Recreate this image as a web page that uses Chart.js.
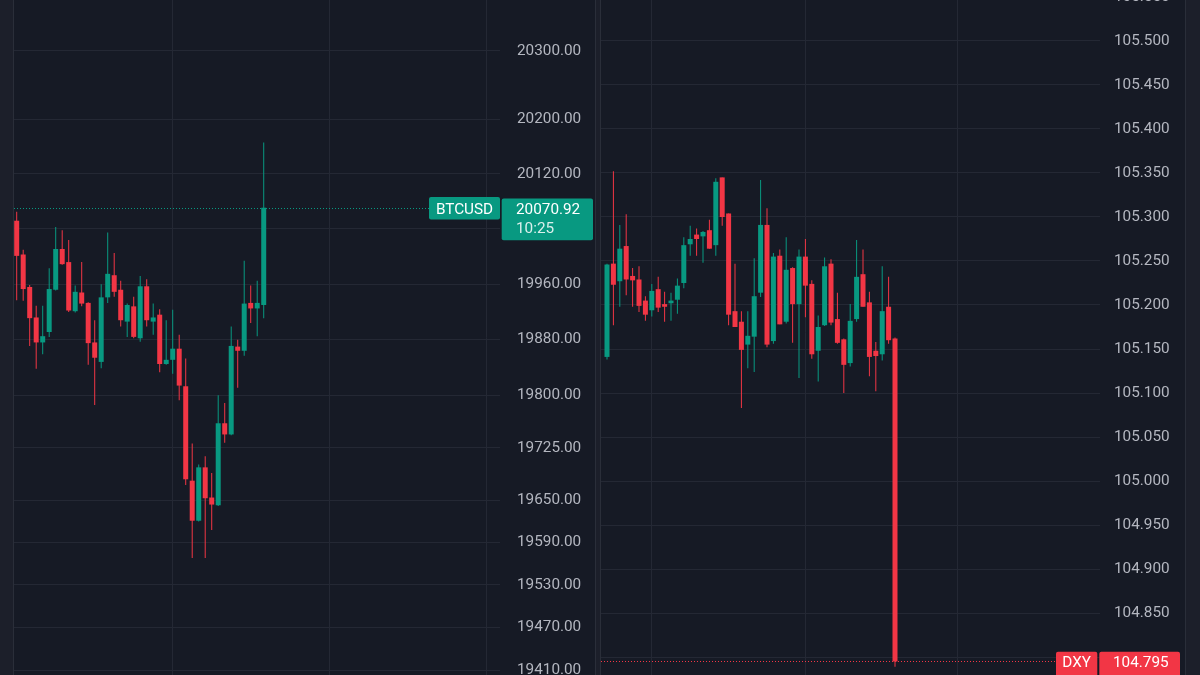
<!DOCTYPE html>
<html lang="en">
<head>
<meta charset="utf-8">
<title>BTCUSD / DXY</title>
<script src="https://cdn.jsdelivr.net/npm/chart.js@4.4.0/dist/chart.umd.min.js"></script>
<style>
    html, body { margin: 0; padding: 0; width: 1200px; height: 675px; overflow: hidden; background: #161a25; }
    .strip { position: absolute; top: 0; height: 675px; background: #1c1f2a; box-sizing: border-box; }
    #btc-wrap { position: absolute; left: 14px; top: 0; width: 581px; height: 675px; }
    #dxy-wrap { position: absolute; left: 601px; top: -10px; width: 584px; height: 685px; }
</style>
</head>
<body>
<div class="strip" style="left:0; width:14px; border-right:1px solid #2a2e39;"></div>
<div class="strip" style="left:595px; width:6px; border-left:1px solid #2a2e39; border-right:1px solid #2a2e39;"></div>
<div class="strip" style="left:1185px; width:15px; border-left:1px solid #2a2e39;"></div>
<div id="btc-wrap"><canvas id="btc" width="581" height="675"></canvas></div>
<div id="dxy-wrap"><canvas id="dxy" width="584" height="685"></canvas></div>

<script>
    const upColor = '#089981';
    const downColor = '#f23645';
    const gridColor = '#242834';
    const labelColor = '#b4b7c0';

    // BTCUSD candles
    const btcOpen  = [20052, 20003, 19956, 19912, 19876, 19891, 19952, 20011, 19992, 19921,
                      19948, 19933, 19876, 19848, 19941, 19973, 19952, 19906, 19928, 19882,
                      19957, 19906, 19916, 19845, 19851, 19867, 19813, 19678, 19621, 19697,
                      19654, 19643, 19760, 19744, 19870, 19864, 19933, 19925, 19930];
    const btcHigh  = [20065, 20010, 19959, 19929, 19929, 19983, 20043, 20038, 20024, 19958,
                      19992, 19934, 19908, 19960, 20035, 20005, 19965, 19932, 19942, 19972,
                      19967, 19932, 19924, 19908, 19923, 19887, 19853, 19731, 19701, 19713,
                      19689, 19800, 19789, 19899, 19880, 19994, 19958, 19965, 20166];
    const btcLow   = [19937, 19936, 19871, 19838, 19859, 19884, 19951, 19988, 19920, 19919,
                      19928, 19844, 19786, 19839, 19933, 19942, 19899, 19884, 19882, 19877,
                      19899, 19887, 19833, 19844, 19831, 19793, 19672, 19568, 19620, 19568,
                      19608, 19642, 19732, 19743, 19811, 19857, 19904, 19885, 19911];
    const btcClose = [20001, 19953, 19911, 19876, 19885, 19953, 20011, 19989, 19922, 19949,
                      19932, 19875, 19854, 19941, 19975, 19949, 19908, 19930, 19884, 19957,
                      19908, 19912, 19845, 19851, 19867, 19814, 19680, 19621, 19697, 19653,
                      19644, 19760, 19744, 19871, 19864, 19932, 19925, 19933, 20070.92];
    const btcTicks = [19410, 19470, 19530, 19590, 19650, 19725, 19800, 19880, 19960, 20040, 20120, 20200, 20300];

    // DXY candles
    const dxyOpen  = [105.141, 105.247, 105.227, 105.267, 105.233, 105.229, 105.205, 105.194, 105.218, 105.201,
                      105.202, 105.206, 105.225, 105.269, 105.280, 105.278, 105.285, 105.268, 105.345, 105.304,
                      105.193, 105.181, 105.155, 105.164, 105.214, 105.291, 105.159, 105.256, 105.181, 105.242,
                      105.201, 105.255, 105.224, 105.148, 105.177, 105.247, 105.184, 105.161, 105.134, 105.184,
                      105.235, 105.203, 105.148, 105.144, 105.198, 105.162];
    const dxyHigh  = [105.247, 105.352, 105.291, 105.303, 105.242, 105.244, 105.210, 105.224, 105.232, 105.215,
                      105.214, 105.230, 105.277, 105.290, 105.287, 105.284, 105.297, 105.344, 105.345, 105.304,
                      105.247, 105.193, 105.193, 105.253, 105.342, 105.310, 105.259, 105.263, 105.277, 105.243,
                      105.263, 105.275, 105.228, 105.188, 105.254, 105.252, 105.214, 105.162, 105.201, 105.274,
                      105.263, 105.215, 105.158, 105.244, 105.232, 105.163];
    const dxyLow   = [105.138, 105.177, 105.198, 105.211, 105.198, 105.192, 105.182, 105.187, 105.192, 105.181,
                      105.182, 105.190, 105.219, 105.256, 105.256, 105.248, 105.264, 105.256, 105.290, 105.177,
                      105.175, 105.083, 105.128, 105.124, 105.209, 105.152, 105.156, 105.178, 105.179, 105.157,
                      105.117, 105.186, 105.139, 105.113, 105.176, 105.177, 105.156, 105.100, 105.130, 105.181,
                      105.198, 105.119, 105.102, 105.137, 105.156, 104.789];
    const dxyClose = [105.246, 105.223, 105.264, 105.229, 105.228, 105.199, 105.189, 105.216, 105.197, 105.198,
                      105.205, 105.222, 105.268, 105.275, 105.275, 105.283, 105.264, 105.340, 105.300, 105.189,
                      105.175, 105.149, 105.165, 105.210, 105.291, 105.155, 105.255, 105.178, 105.240, 105.201,
                      105.255, 105.222, 105.144, 105.175, 105.244, 105.180, 105.157, 105.132, 105.182, 105.232,
                      105.198, 105.141, 105.142, 105.193, 105.160, 104.795];
    const dxyTicks = [104.80, 104.85, 104.90, 104.95, 105.00, 105.05, 105.10, 105.15, 105.20,
                      105.25, 105.30, 105.35, 105.40, 105.45, 105.50, 105.55];

    Chart.defaults.font.family = "Roboto, 'Open Sans', sans-serif";
    Chart.defaults.font.size = 15.3;

    function candleSets(o, h, l, c) {
        const colors = c.map((v, i) => v >= o[i] ? upColor : downColor);
        return [
            {
                data: o.map((v, i) => ({ x: i, y: [l[i], h[i]] })),
                backgroundColor: colors,
                barThickness: 1, maxBarThickness: 1,
                grouped: false, inflateAmount: 0, order: 2
            },
            {
                data: o.map((v, i) => ({ x: i, y: [v, c[i]] })),
                backgroundColor: colors,
                barThickness: 5, maxBarThickness: 5, minBarLength: 1,
                grouped: false, inflateAmount: 0, order: 1
            }
        ];
    }

    function noPadding(s) {
        s.paddingTop = 0;
        s.paddingBottom = 0;
        s.paddingLeft = 0;
        s.paddingRight = 0;
    }

    function priceTag(t) {
        return {
            id: 'priceTag',
            afterDraw(chart) {
                const ctx = chart.ctx;
                const area = chart.chartArea;
                const y = Math.round(chart.scales.y.getPixelForValue(t.value)) + 0.5;
                ctx.save();
                ctx.strokeStyle = t.color;
                ctx.lineWidth = 1;
                ctx.setLineDash([1, 2]);
                ctx.beginPath();
                ctx.moveTo(area.left, y);
                ctx.lineTo(t.nameBox[0], y);
                ctx.stroke();
                ctx.setLineDash([]);

                ctx.fillStyle = t.color;
                ctx.beginPath();
                ctx.roundRect(t.nameBox[0], y + t.nameBox[2], t.nameBox[1] - t.nameBox[0], t.nameBox[3], 2);
                ctx.fill();
                ctx.beginPath();
                ctx.roundRect(t.valueBox[0], y + t.valueBox[2], t.valueBox[1] - t.valueBox[0], t.valueBox[3], 2);
                ctx.fill();

                ctx.font = '15.3px Roboto, sans-serif';
                ctx.textBaseline = 'middle';
                ctx.fillStyle = '#ffffff';
                ctx.textAlign = 'center';
                ctx.fillText(t.name, (t.nameBox[0] + t.nameBox[1]) / 2, y + t.textDy);
                ctx.textAlign = 'left';
                ctx.fillText(t.text, area.right + t.textDx, y + t.textDy);
                if (t.sub) {
                    ctx.fillStyle = 'rgba(255,255,255,0.85)';
                    ctx.fillText(t.sub, area.right + t.textDx, y + t.textDy + 19);
                }
                ctx.restore();
            }
        };
    }

    function makeChart(id, o, h, l, c, cfg) {
        return new Chart(document.getElementById(id), {
            type: 'bar',
            data: { datasets: candleSets(o, h, l, c) },
            options: {
                responsive: false,
                animation: false,
                events: [],
                layout: { padding: 0 },
                plugins: { legend: { display: false }, tooltip: { enabled: false } },
                scales: {
                    x: {
                        type: 'linear',
                        min: cfg.xMin, max: cfg.xMax,
                        bounds: 'data',
                        offset: false,
                        afterBuildTicks: s => { s.ticks = cfg.xGrid.map(v => ({ value: v })); },
                        afterFit: s => { s.height = 0; noPadding(s); },
                        ticks: { display: false },
                        grid: { color: gridColor, drawTicks: false, offset: false },
                        border: { display: false }
                    },
                    y: {
                        type: cfg.yType,
                        position: 'right',
                        min: cfg.yMin, max: cfg.yMax,
                        bounds: 'data',
                        afterBuildTicks: s => { s.ticks = cfg.yTicks.map(v => ({ value: v })); },
                        afterFit: s => { s.width = cfg.axisWidth; noPadding(s); },
                        ticks: {
                            color: labelColor,
                            padding: cfg.labelPad,
                            autoSkip: false,
                            callback: v => cfg.hidden.includes(v) ? '' : Number(v).toFixed(cfg.digits)
                        },
                        grid: { color: gridColor, drawTicks: false },
                        border: { display: false }
                    }
                }
            },
            plugins: [priceTag(cfg.tag)]
        });
    }

    makeChart('btc', btcOpen, btcHigh, btcLow, btcClose, {
        xMin: -0.415, xMax: 74.35, xGrid: [23.9, 48.1, 72.2],
        yType: 'logarithmic', yMin: 19403, yMax: 20375.1, yTicks: btcTicks, hidden: [20040],
        axisWidth: 95, labelPad: 17, digits: 2,
        tag: {
            value: btcClose[btcClose.length - 1], color: upColor,
            name: 'BTCUSD', text: btcClose[btcClose.length - 1].toFixed(2), sub: '10:25',
            nameBox: [415, 486, -11.5, 22.5], valueBox: [487.7, 579, -10, 41.7],
            textDx: 16, textDy: 1.5
        }
    });

    makeChart('dxy', dxyOpen, dxyHigh, dxyLow, dxyClose, {
        xMin: -0.9375, xMax: 77.03, xGrid: [7.03, 30.94, 54.84],
        yType: 'linear', yMin: 104.77955, yMax: 105.55795, yTicks: dxyTicks, hidden: [104.80],
        axisWidth: 85, labelPad: 14, digits: 3,
        tag: {
            value: dxyClose[dxyClose.length - 1], color: downColor,
            name: 'DXY', text: dxyClose[dxyClose.length - 1].toFixed(3), sub: '',
            nameBox: [455, 496.3, -9.7, 30], valueBox: [498.3, 579, -9.7, 30],
            textDx: 13, textDy: 2
        }
    });
</script>
</body>
</html>
